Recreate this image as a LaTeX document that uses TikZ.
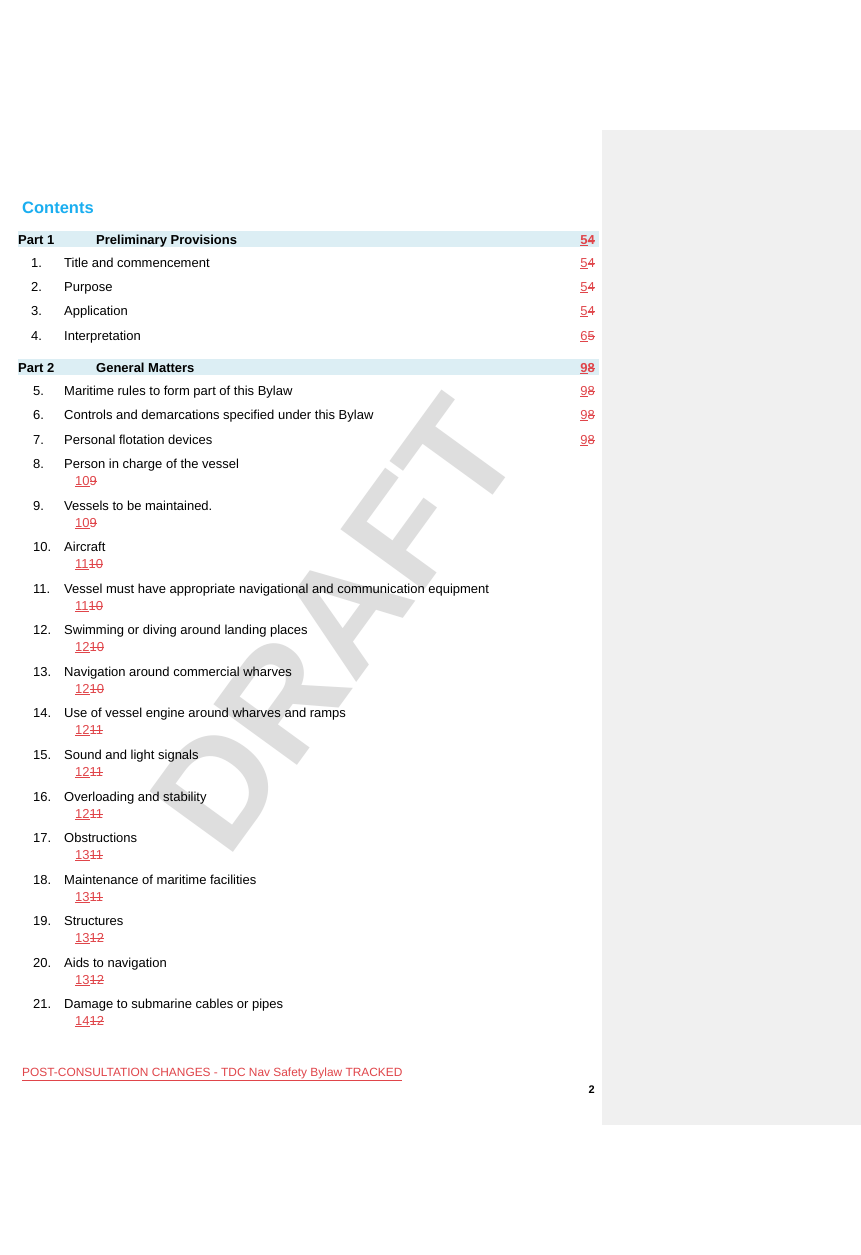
\documentclass[tikz,border=0pt]{standalone}
\usepackage{fontspec}
\setmainfont{Liberation Sans}
\definecolor{trk}{HTML}{E0454A}
\definecolor{band}{HTML}{DCEEF4}
\definecolor{cyanh}{HTML}{1AAEF0}
\definecolor{panel}{HTML}{F0F0F0}
\newcommand{\strk}[1]{\setbox0\hbox{#1}\rlap{\rule[0.3em]{\wd0}{0.5pt}}\box0}
\newcommand{\pgn}[2]{\textcolor{trk}{\underline{#1}\strk{#2}}}
\begin{document}
\begin{tikzpicture}[x=1pt,y=-1pt,
  txt/.style={anchor=base west,inner sep=0pt,font=\fontsize{13}{15}\selectfont},
  hd/.style={anchor=base west,inner sep=0pt,font=\fontsize{13}{15}\selectfont\bfseries},
  num/.style={anchor=base east,inner sep=0pt,font=\fontsize{13}{15}\selectfont}]
\useasboundingbox (0,0) rectangle (861,1255);
\fill[white] (0,0) rectangle (861,1255);
\fill[panel] (602,130) rectangle (861,1125);
\node[rotate=54,text=black!13,font=\fontsize{150}{150}\selectfont\bfseries,inner sep=0pt] (wm) at (335,625) {DRAFT};
\node[anchor=base west,inner sep=0pt,text=cyanh,font=\fontsize{16.5}{18}\selectfont\bfseries] (title) at (22,213) {Contents};
% Part 1
\fill[band] (18,231) rectangle (599,247);
\node[hd] (p1) at (18,244) {Part 1};
\node[hd] (p1t) at (96,244) {Preliminary Provisions};
\node[num,font=\fontsize{13}{15}\selectfont\bfseries] (p1n) at (595,244) {\pgn{5}{4}};
\foreach \n/\t/\a/\b/\y in {1/Title and commencement/5/4/267, 2/Purpose/5/4/291, 3/Application/5/4/315, 4/Interpretation/6/5/340}{
  \node[txt] (n\n) at (31,\y) {\n.};
  \node[txt] (t\n) at (64,\y) {\t};
  \node[num] (g\n) at (595,\y) {\pgn{\a}{\b}};
}
% Part 2
\fill[band] (18,359) rectangle (599,375);
\node[hd] (p2) at (18,372) {Part 2};
\node[hd] (p2t) at (96,372) {General Matters};
\node[num,font=\fontsize{13}{15}\selectfont\bfseries] (p2n) at (595,372) {\pgn{9}{8}};
\foreach \n/\t/\y in {5/Maritime rules to form part of this Bylaw/395, 6/Controls and demarcations specified under this Bylaw/419, 7/Personal flotation devices/444}{
  \node[txt] (n\n) at (33,\y) {\n.};
  \node[txt] (t\n) at (64,\y) {\t};
  \node[num] (g\n) at (595,\y) {\pgn{9}{8}};
}
\foreach \n/\t/\a/\b/\y in {8/Person in charge of the vessel/10/9/468, 9/Vessels to be maintained./10/9/510, 10/Aircraft/11/10/551, 11/Vessel must have appropriate navigational and communication equipment/11/10/593, 12/Swimming or diving around landing places/12/10/634, 13/Navigation around commercial wharves/12/10/676, 14/Use of vessel engine around wharves and ramps/12/11/717, 15/Sound and light signals/12/11/759, 16/Overloading and stability/12/11/801, 17/Obstructions/13/11/842, 18/Maintenance of maritime facilities/13/11/884, 19/Structures/13/12/925, 20/Aids to navigation/13/12/967, 21/Damage to submarine cables or pipes/14/12/1008}{
  \node[txt] (n\n) at (33,\y) {\n.};
  \node[txt] (t\n) at (64,\y) {\t};
  \node[txt] (g\n) at (75,\y+17) {\pgn{\a}{\b}};
}
\node[anchor=base west,inner sep=0pt,text=trk,font=\fontsize{11.9}{13}\selectfont] (foot) at (22,1076) {\underline{POST-CONSULTATION CHANGES - TDC Nav Safety Bylaw TRACKED}};
\node[anchor=base east,inner sep=0pt,font=\fontsize{11}{13}\selectfont\bfseries] (pgno) at (595,1093) {2};
\end{tikzpicture}
\end{document}
